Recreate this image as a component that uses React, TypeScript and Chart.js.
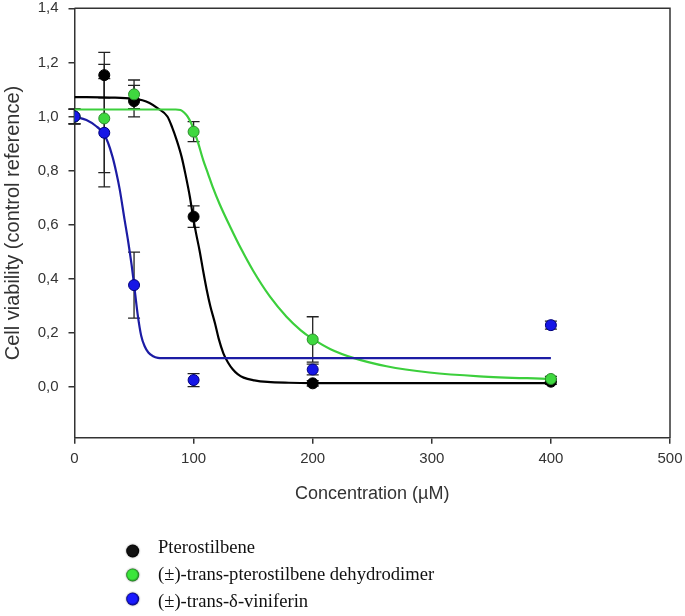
import React, { useEffect, useRef } from "react";
import { Chart, registerables } from "chart.js";

Chart.register(...registerables);

// ---- data ----
const concentrations = [0, 25, 50, 100, 200, 400];

const pteroMean = [1.0, 1.153, 1.057, 0.63, 0.014, 0.02];
const pteroErr = [0.027, 0.084, 0.058, 0.04, 0.01, 0.01];

const dimerMean = [1.0, 0.993, 1.082, 0.944, 0.176, 0.03];
const dimerErr = [0.027, 0.2, 0.053, 0.037, 0.084, 0.01];

const vinifMean = [1.0, 0.94, 0.377, 0.026, 0.065, 0.229];
const vinifErr = [0.027, 0.2, 0.122, 0.024, 0.02, 0.015];

// fitted curves
const pteroCurveX = [0, 30, 49, 57, 63, 70, 78, 82, 86, 90, 93, 97, 99.5, 102, 105, 108, 111, 114, 118, 121, 125, 129, 133, 137, 142, 151, 162, 180, 200, 400];
const pteroCurveY = [1.072, 1.07, 1.066, 1.06, 1.05, 1.03, 1.0, 0.96, 0.91, 0.85, 0.79, 0.7, 0.63, 0.57, 0.505, 0.43, 0.36, 0.3, 0.235, 0.18, 0.125, 0.09, 0.065, 0.048, 0.035, 0.025, 0.019, 0.016, 0.015, 0.015];

const dimerCurveX = [0, 85, 89, 92, 95, 98, 101, 104, 108, 112, 116, 122, 131, 140, 150, 164, 178, 190, 200, 215, 234, 262, 298, 340, 400];
const dimerCurveY = [1.026, 1.026, 1.024, 1.015, 1.0, 0.975, 0.94, 0.9, 0.84, 0.79, 0.74, 0.675, 0.59, 0.51, 0.43, 0.335, 0.26, 0.21, 0.178, 0.14, 0.108, 0.077, 0.054, 0.04, 0.03];

const vinifCurveX = [0, 10, 18, 24, 28, 32, 35, 38, 42, 45, 48, 50, 53, 56, 59, 62, 66, 70, 74, 400];
const vinifCurveY = [1.0, 0.987, 0.965, 0.94, 0.905, 0.85, 0.795, 0.73, 0.62, 0.54, 0.45, 0.38, 0.27, 0.19, 0.15, 0.128, 0.114, 0.108, 0.107, 0.107];

const xTickValues = [0, 100, 200, 300, 400, 500];
const yTickValues = [0, 0.2, 0.4, 0.6, 0.8, 1.0, 1.2, 1.4];

const seriesNames = [
  "Pterostilbene",
  "(±)-trans-pterostilbene dehydrodimer",
  "(±)-trans-δ-viniferin",
];

const xTitle = "Concentration (µM)";
const yTitle = "Cell viability (control reference)";

// ---- styles ----
const pointFill = ["#000000", "#3fd83f", "#1616e6"];
const pointEdge = ["#000000", "#2a8a2a", "#00007a"];
const curveColor = ["#000000", "#3ccf3c", "#1c1ca4"];
const legendInner = ["#111111", "#3ae63a", "#1a1aff"];
const legendOuter = ["#000000", "#1a5a1a", "#00004a"];

const toXY = (xs: number[], ys: number[]) => xs.map((x, i) => ({ x, y: ys[i] }));

const means = [pteroMean, dimerMean, vinifMean];
const errs = [pteroErr, dimerErr, vinifErr];

const errorBarPlugin = {
  id: "errorBars",
  beforeDatasetsDraw(chart: any) {
    const { ctx, scales } = chart;
    const xs = scales.x;
    const ys = scales.y;
    ctx.save();
    ctx.strokeStyle = "#222222";
    ctx.lineWidth = 1.3;
    means.forEach((m, s) => {
      m.forEach((v, i) => {
        const e = errs[s][i];
        const px = xs.getPixelForValue(concentrations[i]);
        const top = ys.getPixelForValue(v + e);
        const bot = ys.getPixelForValue(v - e);
        ctx.beginPath();
        ctx.moveTo(px, top);
        ctx.lineTo(px, bot);
        ctx.moveTo(px - 6, top);
        ctx.lineTo(px + 6, top);
        ctx.moveTo(px - 6, bot);
        ctx.lineTo(px + 6, bot);
        ctx.stroke();
      });
    });
    ctx.restore();
  },
};

const frameAndLegendPlugin = {
  id: "frameAndLegend",
  afterDraw(chart: any) {
    const { ctx, chartArea } = chart;
    ctx.save();
    ctx.strokeStyle = "#333333";
    ctx.lineWidth = 1.5;
    ctx.beginPath();
    ctx.moveTo(chartArea.left, chartArea.top);
    ctx.lineTo(chartArea.right, chartArea.top);
    ctx.lineTo(chartArea.right, chartArea.bottom);
    ctx.stroke();

    // legend
    const mx = 132.7;
    seriesNames.forEach((name, i) => {
      const my = 551 + i * 24;
      const g = ctx.createRadialGradient(mx - 1, my - 1, 0.5, mx, my, 7);
      g.addColorStop(0, legendInner[i]);
      g.addColorStop(0.6, legendInner[i]);
      g.addColorStop(1, legendOuter[i]);
      ctx.fillStyle = g;
      ctx.shadowColor = "rgba(0,0,0,0.45)";
      ctx.shadowBlur = 2;
      ctx.beginPath();
      ctx.arc(mx, my, 6.5, 0, Math.PI * 2);
      ctx.fill();
      ctx.shadowBlur = 0;
      ctx.shadowColor = "transparent";
      ctx.fillStyle = "#111111";
      ctx.font = '18.6px "Liberation Serif", "Times New Roman", serif';
      ctx.textAlign = "left";
      ctx.textBaseline = "alphabetic";
      ctx.fillText(name, 158, 553 + i * 27);
    });
    ctx.restore();
  },
};

const zeroPadding = (axis: any) => {
  axis.paddingTop = 0;
  axis.paddingBottom = 0;
  axis.paddingLeft = 0;
  axis.paddingRight = 0;
};

export default function App() {
  const canvasRef = useRef<HTMLCanvasElement | null>(null);

  useEffect(() => {
    const canvas = canvasRef.current;
    if (!canvas) return;

    const pointDs = (s: number, order: number) => ({
      type: "scatter" as const,
      label: seriesNames[s] + " data",
      data: toXY(concentrations, means[s]),
      showLine: false,
      pointRadius: 5.5,
      pointHoverRadius: 5.5,
      pointBackgroundColor: pointFill[s],
      pointBorderColor: pointEdge[s],
      pointBorderWidth: 1,
      order,
    });

    const curveDs = (s: number, xs: number[], ys: number[], order: number) => ({
      type: "line" as const,
      label: seriesNames[s],
      data: toXY(xs, ys),
      borderColor: curveColor[s],
      borderWidth: 2.2,
      pointRadius: 0,
      fill: false,
      cubicInterpolationMode: "monotone" as const,
      order,
    });

    const chart = new Chart(canvas, {
      type: "scatter",
      data: {
        datasets: [
          pointDs(2, 0),
          pointDs(1, 1),
          pointDs(0, 2),
          curveDs(2, vinifCurveX, vinifCurveY, 3),
          curveDs(1, dimerCurveX, dimerCurveY, 4),
          curveDs(0, pteroCurveX, pteroCurveY, 5),
        ] as any,
      },
      options: {
        responsive: false,
        animation: false,
        layout: { autoPadding: false, padding: { left: 0, top: 8.3, right: 15, bottom: 108.3 } },
        plugins: {
          legend: { display: false },
          tooltip: { enabled: false },
        },
        scales: {
          x: {
            type: "linear",
            min: 0,
            max: 500,
            afterBuildTicks: (axis: any) => {
              axis.ticks = xTickValues.map((value) => ({ value }));
            },
            afterFit: (axis: any) => {
              axis.height = 70;
              zeroPadding(axis);
            },
            grid: {
              display: true,
              drawOnChartArea: false,
              drawTicks: true,
              tickLength: 6,
              color: "#333333",
              lineWidth: 1.5,
            },
            border: { display: true, color: "#333333", width: 1.5 },
            ticks: {
              color: "#333333",
              padding: 6,
              maxRotation: 0,
              font: { family: '"Liberation Sans", Arial, sans-serif', size: 15 },
            },
            title: {
              display: true,
              text: xTitle,
              color: "#333333",
              padding: { top: 0, bottom: 3 },
              font: { family: '"Liberation Sans", Arial, sans-serif', size: 18 },
            },
          },
          y: {
            type: "linear",
            min: -0.187,
            max: 1.4,
            afterBuildTicks: (axis: any) => {
              axis.ticks = yTickValues.map((value) => ({ value }));
            },
            afterFit: (axis: any) => {
              axis.width = 74.5;
              zeroPadding(axis);
            },
            grid: {
              display: true,
              drawOnChartArea: false,
              drawTicks: true,
              tickLength: 6,
              color: "#333333",
              lineWidth: 1.5,
            },
            border: { display: true, color: "#333333", width: 1.5 },
            ticks: {
              color: "#333333",
              padding: 10,
              callback: (v: any) => Number(v).toFixed(1).replace(".", ","),
              font: { family: '"Liberation Sans", Arial, sans-serif', size: 15 },
            },
            title: {
              display: true,
              text: yTitle,
              color: "#333333",
              padding: { top: 1, bottom: 0 },
              font: { family: '"Liberation Sans", Arial, sans-serif', size: 20 },
            },
          },
        },
      },
      plugins: [errorBarPlugin, frameAndLegendPlugin],
    });

    return () => chart.destroy();
  }, []);

  return (
    <div style={{ position: "fixed", left: 0, top: 0, width: 685, height: 616, background: "#ffffff" }}>
      <canvas ref={canvasRef} width={685} height={616} style={{ display: "block" }} />
    </div>
  );
}
